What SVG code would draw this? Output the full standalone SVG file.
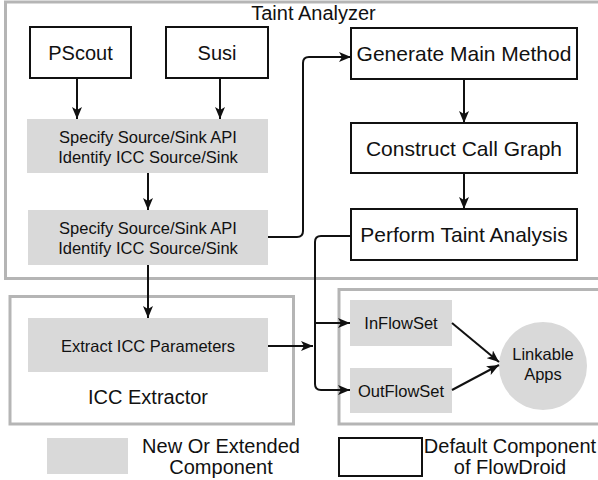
<svg xmlns="http://www.w3.org/2000/svg" width="598" height="480" viewBox="0 0 598 480">
<defs>
<marker id="ah" viewBox="0 0 12 10" refX="12" refY="5" markerWidth="12" markerHeight="10" markerUnits="userSpaceOnUse" orient="auto">
<path d="M0,0 L12,5 L0,10 L3,5 z" fill="#111"/>
</marker>
<style>
.grp{fill:none;stroke:#b5b5b5;stroke-width:3}
.blk{fill:#fff;stroke:#111;stroke-width:2}
.gry{fill:#d9d9d9;stroke:none}
.t{font-family:"Liberation Sans",Arial,sans-serif;fill:#111;text-anchor:middle}
.big{font-size:21px}
.mid{font-size:20px}
.sm{font-size:16.5px}
.con{fill:none;stroke:#111;stroke-width:2;marker-end:url(#ah)}
</style>
</defs>
<rect width="598" height="480" fill="#fff"/>

<g id="taint-analyzer">
<rect class="grp" x="5.5" y="2" width="600" height="276.5"/>
<text class="t mid" x="313.5" y="20">Taint Analyzer</text>
</g>
<g id="icc-extractor">
<rect class="grp" x="10" y="296.5" width="283.5" height="127.5"/>
<text class="t mid" x="148" y="404">ICC Extractor</text>
</g>
<g id="flowdroid">
<rect class="grp" x="339" y="289.5" width="270" height="134.5"/>
</g>

<g id="pscout">
<rect class="blk" x="30" y="27" width="101" height="51"/>
<text class="t mid" x="80.5" y="60">PScout</text>
</g>
<g id="susi">
<rect class="blk" x="166" y="27" width="102" height="51"/>
<text class="t mid" x="217" y="60">Susi</text>
</g>
<g id="spec1">
<rect class="gry" x="27" y="119" width="241" height="54"/>
<text class="t sm" x="148" y="143">Specify Source/Sink API</text>
<text class="t sm" x="148" y="163">Identify ICC Source/Sink</text>
</g>
<g id="spec2">
<rect class="gry" x="28" y="210" width="240" height="55"/>
<text class="t sm" x="148" y="234">Specify Source/Sink API</text>
<text class="t sm" x="148" y="254">Identify ICC Source/Sink</text>
</g>
<g id="gen-main">
<rect class="blk" x="351" y="28" width="226" height="51"/>
<text class="t big" x="464" y="61">Generate Main Method</text>
</g>
<g id="call-graph">
<rect class="blk" x="351" y="123" width="226" height="50"/>
<text class="t big" x="464" y="155.5">Construct Call Graph</text>
</g>
<g id="taint-analysis">
<rect class="blk" x="351" y="209" width="226" height="51"/>
<text class="t big" x="464" y="242">Perform Taint Analysis</text>
</g>
<g id="extract-icc">
<rect class="gry" x="28" y="318" width="240" height="54"/>
<text class="t sm" x="148" y="352">Extract ICC Parameters</text>
</g>
<g id="inflowset">
<rect class="gry" x="350" y="300" width="102" height="46"/>
<text class="t sm" x="401" y="329">InFlowSet</text>
</g>
<g id="outflowset">
<rect class="gry" x="350" y="368" width="102" height="45"/>
<text class="t sm" x="401" y="397">OutFlowSet</text>
</g>
<g id="linkable-apps">
<circle class="gry" cx="543" cy="366" r="44"/>
<text class="t sm" x="543" y="360">Linkable</text>
<text class="t sm" x="543" y="380">Apps</text>
</g>

<g id="legend-new">
<rect class="gry" x="47" y="438" width="81" height="36"/>
<text class="t mid" x="221" y="452.5">New Or Extended</text>
<text class="t mid" x="221" y="473.5">Component</text>
</g>
<g id="legend-default">
<rect class="blk" x="339" y="438" width="83" height="38"/>
<text class="t mid" x="510" y="452.5">Default Component</text>
<text class="t mid" x="510" y="473.5">of FlowDroid</text>
</g>

<g id="connectors">
<path class="con" d="M77,78 V119"/>
<path class="con" d="M220,78 V119"/>
<path class="con" d="M148,173 V210"/>
<path class="con" d="M268,237 H297 Q303,237 303,231 V63 Q303,57 309,57 H351"/>
<path class="con" d="M464,79 V123"/>
<path class="con" d="M464,173 V209"/>
<path class="con" d="M148,265 V318"/>
<path class="con" d="M351,236 H321 Q315,236 315,242 V384 Q315,390 321,390 H350"/>
<path class="con" d="M315,323 H350"/>
<path class="con" d="M268,346 H313"/>
<path class="con" d="M452,323 L499,362"/>
<path class="con" d="M452,390 L499,365"/>
</g>
</svg>
